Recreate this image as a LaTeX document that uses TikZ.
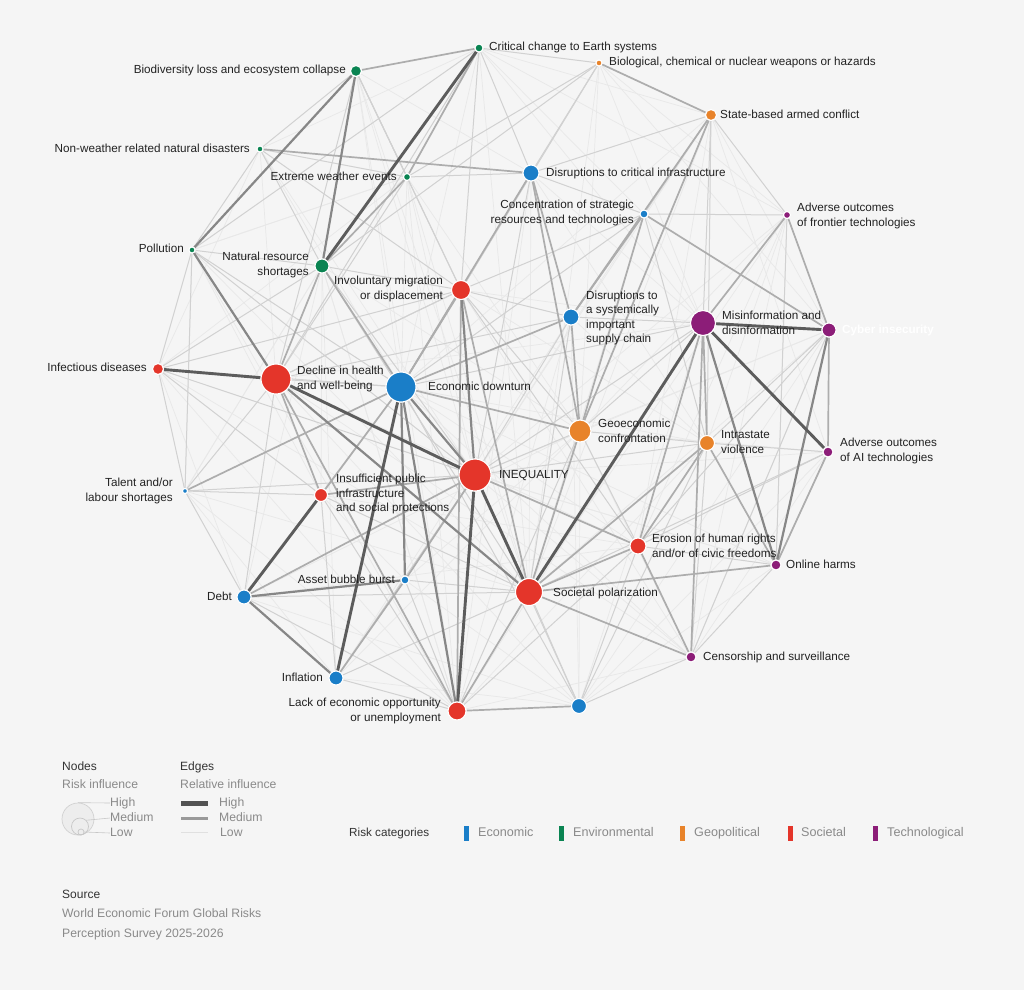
\documentclass[tikz,border=0pt]{standalone}
\usepackage{fontspec}
\setmainfont{Liberation Sans}
\usetikzlibrary{backgrounds}
\pgfdeclarelayer{back}
\pgfdeclarelayer{edges}
\pgfsetlayers{back,edges,main}
\definecolor{bgc}{HTML}{F5F5F5}
\definecolor{ecoC}{HTML}{1A7EC8}
\definecolor{envC}{HTML}{0A8452}
\definecolor{geoC}{HTML}{E8832A}
\definecolor{socC}{HTML}{E4352A}
\definecolor{techC}{HTML}{8C1D78}
\definecolor{txt}{HTML}{222222}
\definecolor{lgray}{HTML}{8A8A8A}
\tikzset{
  rn/.style={circle,draw=white,line width=1.1pt,inner sep=0pt},
  lab/.style={text=txt,inner sep=0pt,font=\fontsize{11.7}{14.6}\selectfont},
  lab1/.style={lab,text height=8.4pt,text depth=2.4pt},
  eV/.style={draw=black!9,line width=0.7pt},
  eL/.style={draw=black!18,line width=1pt},
  eM/.style={draw=black!32,line width=1.7pt},
  eMH/.style={draw=black!47,line width=2.2pt},
  eH/.style={draw=black!64,line width=2.9pt},
  leg/.style={text=lgray,inner sep=0pt,font=\fontsize{12.2}{14}\selectfont,text height=8.8pt,text depth=2.6pt},
  legh/.style={text=black!80,inner sep=0pt,font=\fontsize{12}{14}\selectfont,text height=8.8pt,text depth=2.6pt},
  catbar/.style={inner sep=0pt,minimum width=5pt,minimum height=15pt},
}
\newcommand{\rnode}[5]{\node[rn,fill=#5,minimum size=#4*2pt] (#1) at (#2,#3) {};}
\begin{document}
\begin{tikzpicture}[x=1pt,y=-1pt]
\begin{pgfonlayer}{back}
\fill[bgc] (0,0) rectangle (1024,990);
\end{pgfonlayer}
\useasboundingbox (0,0) rectangle (1024,990);
% nodes
\rnode{crit}{479}{48}{4}{envC}
\rnode{bio}{356}{71}{5.5}{envC}
\rnode{bcn}{599}{63}{3}{geoC}
\rnode{state}{711}{115}{5.5}{geoC}
\rnode{nonw}{260}{149}{3}{envC}
\rnode{ext}{407}{177}{3.5}{envC}
\rnode{dci}{531}{173}{8}{ecoC}
\rnode{conc}{644}{214}{4}{ecoC}
\rnode{front}{787}{215}{3.5}{techC}
\rnode{poll}{192}{250}{3}{envC}
\rnode{nrs}{322}{266}{7}{envC}
\rnode{invol}{461}{290}{9.5}{socC}
\rnode{dssc}{571}{317}{8}{ecoC}
\rnode{mis}{703}{323}{12.5}{techC}
\rnode{cyb}{829}{330}{7}{techC}
\rnode{inf}{158}{369}{5.5}{socC}
\rnode{dec}{276}{379}{15}{socC}
\rnode{eco}{401}{387}{15}{ecoC}
\rnode{geo}{580}{431}{11}{geoC}
\rnode{intra}{707}{443}{7.5}{geoC}
\rnode{ai}{828}{452}{5}{techC}
\rnode{ineq}{475}{475}{16}{socC}
\rnode{tal}{185}{491}{2.5}{ecoC}
\rnode{insuf}{321}{495}{6.5}{socC}
\rnode{ero}{638}{546}{8}{socC}
\rnode{onl}{776}{565}{5}{techC}
\rnode{asset}{405}{580}{4}{ecoC}
\rnode{soc}{529}{592}{13.5}{socC}
\rnode{debt}{244}{597}{7}{ecoC}
\rnode{cens}{691}{657}{5}{techC}
\rnode{infl}{336}{678}{7}{ecoC}
\rnode{lack}{457}{711}{9}{socC}
\rnode{ub}{579}{706}{7.5}{ecoC}
% edges
\begin{pgfonlayer}{edges}
\foreach \a/\b in {crit/mis,crit/state,crit/conc,crit/eco,crit/soc,bio/dci,bio/eco,bio/ineq,bio/soc,bio/lack,bcn/mis,bcn/geo,bcn/soc,bcn/cyb,bcn/eco,state/eco,state/soc,state/ero,state/ineq,state/cyb,state/ai,nonw/dec,nonw/eco,nonw/ineq,nonw/inf,ext/eco,ext/ineq,ext/soc,ext/lack,ext/poll,ext/geo,dci/soc,dci/lack,dci/mis,dci/intra,conc/soc,conc/ineq,conc/mis,front/intra,front/soc,front/ero,front/cens,front/ineq,front/geo,poll/soc,poll/lack,poll/insuf,poll/tal,nrs/lack,nrs/geo,nrs/insuf,nrs/tal,invol/intra,invol/cens,invol/mis,dssc/lack,dssc/intra,dssc/ub,dssc/infl,mis/lack,mis/ub,mis/dec,cyb/geo,cyb/soc,cyb/ineq,ai/cens,ai/geo,ai/ineq,ai/ub,inf/soc,inf/lack,inf/debt,dec/ub,dec/cens,dec/ero,eco/cens,eco/ero,eco/intra,eco/onl,geo/cens,geo/ub,geo/debt,geo/infl,intra/lack,ineq/cens,ineq/onl,tal/lack,tal/soc,tal/infl,insuf/ero,insuf/asset,ero/debt,onl/ub,onl/ineq,asset/ub,asset/geo,cens/lack,infl/ub,debt/ub,crit/front,bcn/front,bcn/state,nonw/crit,ext/crit,poll/ext,inf/ext,tal/nrs,debt/nrs,infl/nrs,lack/nrs,cens/cyb,onl/front,ub/cyb}
  \draw[eV] (\a) -- (\b);
\foreach \a/\b in {poll/inf,poll/nrs,nonw/ext,nonw/nrs,nonw/poll,nonw/bio,nonw/invol,ext/dci,ext/invol,ext/bio,ext/dec,bcn/crit,bcn/dci,bcn/nrs,bcn/ext,bcn/invol,state/mis,state/conc,state/dci,state/intra,state/front,conc/eco,conc/invol,conc/front,conc/intra,front/onl,dci/invol,dci/ineq,dci/conc,invol/dec,invol/geo,invol/dssc,invol/ero,invol/inf,dssc/ineq,dssc/soc,dssc/mis,mis/geo,mis/eco,mis/ineq,cyb/intra,cyb/ero,cyb/cens,ai/onl,ai/intra,ai/soc,ai/ero,geo/intra,geo/ineq,geo/lack,geo/ero,intra/ineq,intra/ub,intra/cens,ero/ub,ero/lack,onl/cens,onl/ero,cens/ub,ub/soc,ub/ineq,ub/eco,lack/infl,lack/debt,lack/insuf,lack/asset,tal/dec,tal/debt,tal/poll,tal/insuf,tal/ineq,inf/tal,inf/eco,inf/insuf,inf/ineq,inf/nrs,insuf/soc,insuf/infl,debt/dec,debt/soc,debt/eco,infl/ineq,infl/soc,asset/soc,dec/eco,dec/dssc,dec/invol,nrs/ineq,nrs/invol,nrs/soc,poll/eco,poll/ineq,bio/ext,bio/invol,bio/dec,crit/dci,crit/invol,crit/poll,crit/dec}
  \draw[eL] (\a) -- (\b);
\foreach \a/\b in {crit/bio,ext/nrs,crit/ext,cyb/ai,front/cyb,mis/intra,mis/cens,mis/ero,state/geo,state/dssc,state/bcn,dci/dssc,dci/geo,dci/nonw,dci/eco,conc/geo,conc/cyb,dssc/geo,dssc/eco,geo/eco,geo/soc,invol/soc,invol/eco,ero/ineq,ero/soc,ero/cens,soc/cens,soc/intra,soc/onl,tal/eco,insuf/ineq,insuf/eco,debt/ineq,asset/ineq,asset/infl,lack/soc,lack/ub,dec/insuf,dec/lack,intra/onl,conc/dssc,intra/ero,nrs/dec,nrs/eco,invol/lack,front/mis,ai/onl}
  \draw[eM] (\a) -- (\b);
\foreach \a/\b in {bio/poll,poll/dec,bio/nrs,debt/asset,debt/infl,eco/asset,invol/ineq,eco/ineq,cyb/onl,eco/lack,mis/onl,dec/soc}
  \draw[eMH] (\a) -- (\b);
\foreach \a/\b in {inf/dec,mis/ai,debt/insuf,eco/infl,ineq/lack,crit/nrs,dec/ineq,ineq/soc,mis/cyb,mis/soc}
  \draw[eH] (\a) -- (\b);
\end{pgfonlayer}
% labels
\node[lab1,anchor=west] (l-crit) at (489,48) {Critical change to Earth systems};
\node[lab1,anchor=east] (l-bio) at (346,71) {Biodiversity loss and ecosystem collapse};
\node[lab1,anchor=west] (l-bcn) at (609,63) {Biological, chemical or nuclear weapons or hazards};
\node[lab1,anchor=west] (l-state) at (720,115) {State-based armed conflict};
\node[lab1,anchor=east] (l-nonw) at (250,149) {Non-weather related natural disasters};
\node[lab1,anchor=east] (l-ext) at (397,177) {Extreme weather events};
\node[lab1,anchor=west] (l-dci) at (546,173) {Disruptions to critical infrastructure};
\node[lab,anchor=east,align=right] (l-conc) at (634,213) {Concentration of strategic\\resources and technologies};
\node[lab,anchor=west,align=left] (l-front) at (797,216) {Adverse outcomes\\of frontier technologies};
\node[lab1,anchor=east] (l-poll) at (184,249) {Pollution};
\node[lab,anchor=east,align=right] (l-nrs) at (309,265) {Natural resource\\shortages};
\node[lab,anchor=east,align=right] (l-invol) at (443,289) {Involuntary migration\\or displacement};
\node[lab,anchor=west,align=left] (l-dssc) at (586,318) {Disruptions to\\a systemically\\important\\supply chain};
\node[lab,anchor=west,align=left] (l-mis) at (722,323) {Misinformation and\\disinformation};
\node[lab1,anchor=west,text=white,font=\fontsize{11.7}{14.6}\selectfont\bfseries] (l-cyb) at (842,330) {Cyber insecurity};
\node[lab1,anchor=east] (l-inf) at (147,368) {Infectious diseases};
\node[lab,anchor=west,align=left] (l-dec) at (297,379) {Decline in health\\and well-being};
\node[lab1,anchor=west] (l-eco) at (428,387) {Economic downturn};
\node[lab,anchor=west,align=left] (l-geo) at (598,431) {Geoeconomic\\confrontation};
\node[lab,anchor=west,align=left] (l-intra) at (721,442) {Intrastate\\violence};
\node[lab,anchor=west,align=left] (l-ai) at (840,451) {Adverse outcomes\\of AI technologies};
\node[lab1,anchor=west] (l-ineq) at (499,475) {INEQUALITY};
\node[lab,anchor=east,align=right] (l-tal) at (173,491) {Talent and/or\\labour shortages};
\node[lab,anchor=west,align=left] (l-insuf) at (336,494) {Insufficient public\\infrastructure\\and social protections};
\node[lab,anchor=west,align=left] (l-ero) at (652,546) {Erosion of human rights\\and/or of civic freedoms};
\node[lab1,anchor=west] (l-onl) at (786,565) {Online harms};
\node[lab1,anchor=east] (l-asset) at (395,580) {Asset bubble burst};
\node[lab1,anchor=west] (l-soc) at (553,593) {Societal polarization};
\node[lab1,anchor=east] (l-debt) at (232,597) {Debt};
\node[lab1,anchor=west] (l-cens) at (703,657) {Censorship and surveillance};
\node[lab1,anchor=east] (l-infl) at (323,678) {Inflation};
\node[lab,anchor=east,align=right] (l-lack) at (441,711) {Lack of economic opportunity\\or unemployment};
% legend: nodes
\node[legh,anchor=west] (lg-nodes) at (62,767) {Nodes};
\node[leg,anchor=west] (lg-ri) at (62,785) {Risk influence};
\node[circle,draw=black!18,fill=black!7,line width=0.7pt,minimum size=32pt,inner sep=0pt] (lg-c1) at (78,819) {};
\node[circle,draw=black!22,line width=0.7pt,minimum size=17pt,inner sep=0pt] (lg-c2) at (80,826.5) {};
\node[circle,draw=black!22,line width=0.7pt,minimum size=6pt,inner sep=0pt] (lg-c3) at (81,832) {};
\node[leg,anchor=west] (lg-h) at (110,803) {High};
\node[leg,anchor=west] (lg-m) at (110,818) {Medium};
\node[leg,anchor=west] (lg-l) at (110,833) {Low};
\draw[black!22,line width=0.6pt] (lg-c1.north) -- (lg-h.west);
\draw[black!22,line width=0.6pt] (lg-c2.north east) -- (lg-m.west);
\draw[black!22,line width=0.6pt] (lg-c3.east) -- (lg-l.west);
% legend: edges
\node[legh,anchor=west] (lg-edges) at (180,767) {Edges};
\node[leg,anchor=west] (lg-rel) at (180,785) {Relative influence};
\node[leg,anchor=west] (lg-eh) at (219,803) {High};
\node[leg,anchor=west] (lg-em) at (219,818) {Medium};
\node[leg,anchor=west] (lg-el) at (220,833) {Low};
\coordinate (lg-eh0) at (181,803);
\coordinate (lg-em0) at (181,818);
\coordinate (lg-el0) at (181,832);
\draw[black!68,line width=5pt] (lg-eh0) -- ++(27,0) coordinate (lg-eh1);
\draw[black!40,line width=3pt] (lg-em0) -- ++(27,0) coordinate (lg-em1);
\draw[black!12,line width=0.8pt] (lg-el0) -- ++(27,0) coordinate (lg-el1);
% legend: categories
\node[legh,anchor=west,font=\fontsize{11.7}{14}\selectfont] (lg-cat) at (349,833) {Risk categories};
\node[catbar,fill=ecoC] (cb-eco) at (466,833.5) {};
\node[leg,anchor=west,font=\fontsize{12.6}{14}\selectfont] (ct-eco) at (478,833) {Economic};
\node[catbar,fill=envC] (cb-env) at (561,833.5) {};
\node[leg,anchor=west,font=\fontsize{12.6}{14}\selectfont] (ct-env) at (573,833) {Environmental};
\node[catbar,fill=geoC] (cb-geo) at (682,833.5) {};
\node[leg,anchor=west,font=\fontsize{12.6}{14}\selectfont] (ct-geo) at (694,833) {Geopolitical};
\node[catbar,fill=socC] (cb-soc) at (790,833.5) {};
\node[leg,anchor=west,font=\fontsize{12.6}{14}\selectfont] (ct-soc) at (801,833) {Societal};
\node[catbar,fill=techC] (cb-tech) at (875,833.5) {};
\node[leg,anchor=west,font=\fontsize{12.6}{14}\selectfont] (ct-tech) at (887,833) {Technological};
% source
\node[legh,anchor=west] (src) at (62,895) {Source};
\node[leg,anchor=west] (src1) at (62,914) {World Economic Forum Global Risks};
\node[leg,anchor=west] (src2) at (62,934) {Perception Survey 2025-2026};
\end{tikzpicture}
\end{document}
